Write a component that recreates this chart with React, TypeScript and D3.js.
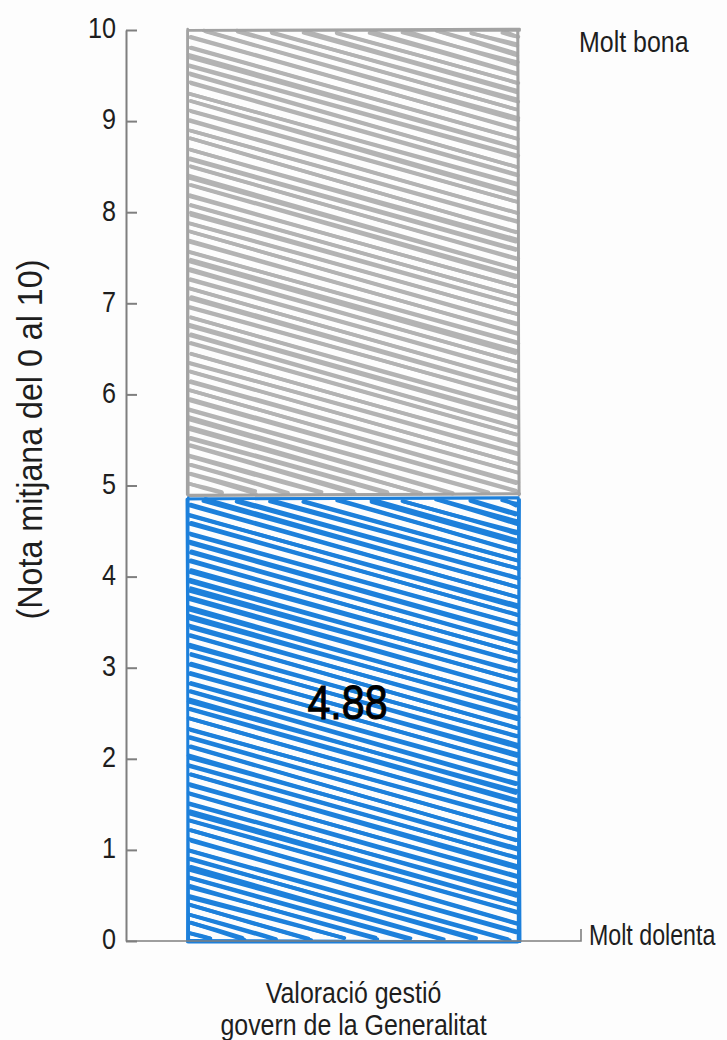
import React, { useEffect, useRef } from 'react';
import * as d3 from 'd3';

// ---- data ----
const categories = ['Valoració gestió|govern de la Generalitat'];
const values = [4.88];
const maxValue = 10;
const yTicks = [0, 1, 2, 3, 4, 5, 6, 7, 8, 9, 10];
const topLabel = 'Molt bona';
const bottomLabel = 'Molt dolenta';
const yTitle = '(Nota mitjana del 0 al 10)';

// ---- layout / style ----
const W = 727;
const H = 1040;
const M = { left: 126, right: 146, top: 30, bottom: 99 };
const FONT = '"Liberation Sans Narrow", "Arial Narrow", "Liberation Sans", Arial, sans-serif';
const BLUE = '#1d80db';
const GRAY = '#b3b3b3';
const GRAY_EDGE = '#a3a3a3';
const AXIS = '#7f7f7f';

function mulberry32(a: number) {
  return function () {
    a |= 0;
    a = (a + 0x6d2b79f5) | 0;
    let t = Math.imul(a ^ (a >>> 15), 1 | a);
    t = (t + Math.imul(t ^ (t >>> 7), 61 | t)) ^ t;
    return ((t ^ (t >>> 14)) >>> 0) / 4294967296;
  };
}

function sketchLine(x1: number, y1: number, x2: number, y2: number, rnd: () => number, amp: number) {
  const j = () => (rnd() - 0.5) * 2 * amp;
  const p = d3.path();
  const ax = x1 + j(), ay = y1 + j();
  const bx = x2 + j(), by = y2 + j();
  const mx = (ax + bx) / 2 + j() * 0.6, my = (ay + by) / 2 + j() * 0.6;
  p.moveTo(ax, ay);
  p.quadraticCurveTo(mx, my, bx, by);
  return p.toString();
}

// condense a text/tspan horizontally (narrow face look)
function condense(el: SVGTextContentElement | null, factor: number) {
  if (!el) return;
  const len = el.getComputedTextLength();
  if (len > 0) {
    el.setAttribute('textLength', String(len * factor));
    el.setAttribute('lengthAdjust', 'spacingAndGlyphs');
  }
}

export default function App() {
  const ref = useRef<SVGSVGElement | null>(null);

  useEffect(() => {
    const svg = d3.select(ref.current);
    svg.selectAll('*').remove();
    const rnd = mulberry32(12345);

    const y = d3.scaleLinear().domain([0, maxValue]).range([H - M.bottom, M.top]);
    const x = d3.scaleBand<string>().domain(categories).range([M.left, W - M.right]).padding(0.158);

    const g = svg.append('g');

    const slope = 0.28;
    const gap = 9.3;
    function drawRect(x0: number, x1: number, y0: number, y1: number, color: string, edge: string, sw: number) {
      const inset = 2;
      const hx0 = x0 + inset, hx1 = x1 - inset, hy0 = y0 + inset, hy1 = y1 - inset;
      const w = hx1 - hx0;
      const hg = g.append('g');
      for (let c = hy0 - slope * w + gap * 0.4; c < hy1; c += gap) {
        let xa = hx0, ya = c;
        if (ya < hy0) { xa = hx0 + (hy0 - c) / slope; ya = hy0; }
        let xb = hx1, yb = c + slope * w;
        if (yb > hy1) { xb = hx0 + (hy1 - c) / slope; yb = hy1; }
        if (xb - xa < 3) continue;
        for (let k = 0; k < 2; k++) {
          hg.append('path')
            .attr('d', sketchLine(xa, ya, xb, yb, rnd, 1.5))
            .attr('fill', 'none')
            .attr('stroke', color)
            .attr('stroke-width', sw)
            .attr('stroke-linecap', 'round');
        }
      }
      const edges: [number, number, number, number][] = [
        [x0, y0, x1, y0],
        [x1, y0, x1, y1],
        [x1, y1, x0, y1],
        [x0, y1, x0, y0],
      ];
      edges.forEach(([a, b, c2, d]) => {
        for (let k = 0; k < 2; k++) {
          g.append('path')
            .attr('d', sketchLine(a, b, c2, d, rnd, 1.3))
            .attr('fill', 'none')
            .attr('stroke', edge)
            .attr('stroke-width', 2.6)
            .attr('stroke-linecap', 'round');
        }
      });
    }

    categories.forEach((cat, i) => {
      const v = values[i];
      const bx0 = x(cat)!;
      const bx1 = bx0 + x.bandwidth();
      drawRect(bx0, bx1, y(maxValue), y(v) - 2, GRAY, GRAY_EDGE, 3.6);
      drawRect(bx0, bx1, y(v) + 2, y(0), BLUE, BLUE, 3.8);
      const vt = g.append('text')
        .attr('x', bx0 + x.bandwidth() / 2 - 6)
        .attr('y', y(v / 2))
        .attr('text-anchor', 'middle')
        .attr('font-family', FONT)
        .attr('font-size', 49)
        .attr('fill', '#000')
        .attr('stroke', '#000')
        .attr('stroke-width', 1)
        .text(v.toFixed(2));
      condense(vt.node() as SVGTextElement, 0.84);
      const lines = cat.split('|');
      const t = g.append('text')
        .attr('text-anchor', 'middle')
        .attr('font-family', FONT)
        .attr('font-size', 29)
        .attr('fill', '#1e1e1e');
      lines.forEach((ln, li) => {
        const ts = t.append('tspan')
          .attr('x', bx0 + x.bandwidth() / 2)
          .attr('y', y(0) + 62 + li * 32)
          .text(ln);
        condense(ts.node() as SVGTSpanElement, 0.86);
      });
    });

    // y axis
    const axis = d3.axisLeft(y).tickValues(yTicks).tickFormat(d3.format('d'))
      .tickSizeInner(-11).tickSizeOuter(0).tickPadding(10);
    const ag = svg.append('g').attr('transform', `translate(${M.left},0)`).call(axis);
    ag.select('.domain').attr('stroke', AXIS).attr('stroke-width', 2);
    ag.selectAll('.tick line').attr('stroke', AXIS).attr('stroke-width', 2);
    ag.selectAll<SVGTextElement, unknown>('.tick text')
      .attr('font-family', FONT)
      .attr('font-size', 30)
      .attr('fill', '#1e1e1e')
      .attr('dy', '0.26em')
      .each(function () { condense(this, 0.84); });

    // baseline with end tick
    const bp = d3.path();
    bp.moveTo(M.left, y(0));
    bp.lineTo(W - M.right, y(0));
    bp.lineTo(W - M.right, y(0) - 12);
    svg.append('path').attr('d', bp.toString()).attr('fill', 'none')
      .attr('stroke', AXIS).attr('stroke-width', 1.6);

    // scale end labels (condensed via a scaled group)
    svg.append('g')
      .attr('transform', `translate(${W - M.right + 8},${y(0) + 4}) scale(0.8,1)`)
      .append('text')
      .attr('x', 0)
      .attr('y', 0)
      .attr('font-family', FONT).attr('font-size', 29).attr('fill', '#1e1e1e')
      .text(bottomLabel);
    const tl = svg.append('text')
      .attr('x', W - M.right - 2)
      .attr('y', y(maxValue) + 22)
      .attr('font-family', FONT).attr('font-size', 29).attr('fill', '#1e1e1e')
      .text(topLabel);
    condense(tl.node() as SVGTextElement, 0.86);

    // y title
    const yt = svg.append('text')
      .attr('transform', `translate(42,${(y(0) + y(maxValue)) / 2 - 46}) rotate(-90)`)
      .attr('text-anchor', 'middle')
      .attr('font-family', FONT).attr('font-size', 35).attr('fill', '#1e1e1e')
      .text(yTitle);
    condense(yt.node() as SVGTextElement, 0.92);
  }, []);

  return (
    <svg
      ref={ref}
      width={W}
      height={H}
      style={{ position: 'absolute', left: 0, top: 0, background: '#fdfdfd', display: 'block' }}
    />
  );
}
